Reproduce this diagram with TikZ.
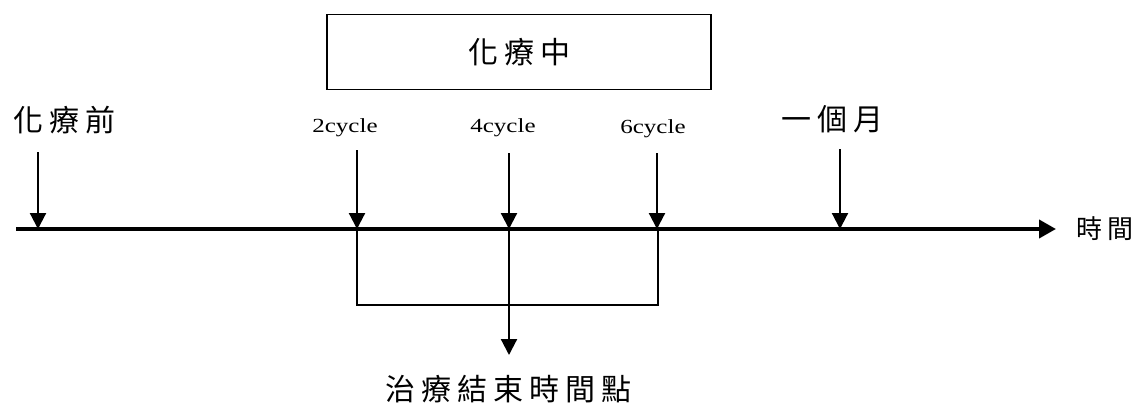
\documentclass[tikz,border=0pt]{standalone}
\usepackage{fontspec}
\setmainfont{Liberation Serif}
\newfontfamily\cjk[LetterSpace=20]{Noto Sans CJK TC}
\usetikzlibrary{arrows.meta}
\begin{document}
\begin{tikzpicture}[x=1pt,y=-1pt,
  cjklab/.style={font=\cjk\fontsize{30}{32}\selectfont, inner sep=0pt},
  cyc/.style={font=\fontsize{20}{22}\selectfont, inner sep=0pt, xscale=1.25},
  arr/.style={line width=2.2pt,-{Triangle[width=16pt,length=16pt]}},
  thin/.style={line width=1.8pt}]
\useasboundingbox (0,0) rectangle (1140,407);
% timeline
\coordinate (t0) at (16,229);
\coordinate (t1) at (1056,229);
\draw[line width=3.8pt,-{Triangle[width=18pt,length=17pt]}] (t0) -- (t1);
\node[cjklab, font=\cjk\fontsize{26}{28}\selectfont, anchor=west] (time) at (1076,229) {時間};
% box
\node[draw, line width=1.8pt, minimum width=384pt, minimum height=75pt, inner sep=0pt, cjklab] (box) at (519,52) {化療中};
% labels
\node[cjklab] (pre) at (64,120) {化療前};
\node[cyc] (c2) at (345,128) {2cycle};
\node[cyc] (c4) at (503,128) {4cycle};
\node[cyc] (c6) at (653,129) {6cycle};
\node[cjklab] (mon) at (832,119) {一個月};
% ticks
\coordinate (a0) at (38,152); \coordinate (b0) at (38,229);
\coordinate (a2) at (357,150); \coordinate (b2) at (357,229);
\coordinate (a4) at (509,153); \coordinate (b4) at (509,229);
\coordinate (a6) at (657,153); \coordinate (b6) at (657,229);
\coordinate (am) at (840,149); \coordinate (bm) at (840,229);
\draw[arr] (a0) -- (b0);
\draw[arr] (a2) -- (b2);
\draw[arr] (a4) -- (b4);
\draw[arr] (a6) -- (b6);
\draw[arr] (am) -- (bm);
% bracket
\coordinate (l2) at (357,305); \coordinate (l6) at (658,305);
\draw[thin] (b2) -- (l2) -- (l6) -- (658,229);
% end arrow
\node[cjklab] (end) at (508,389) {治療結束時間點};
\coordinate (e4) at (509,355);
\draw[arr] (b4) -- (e4);
\end{tikzpicture}
\end{document}
